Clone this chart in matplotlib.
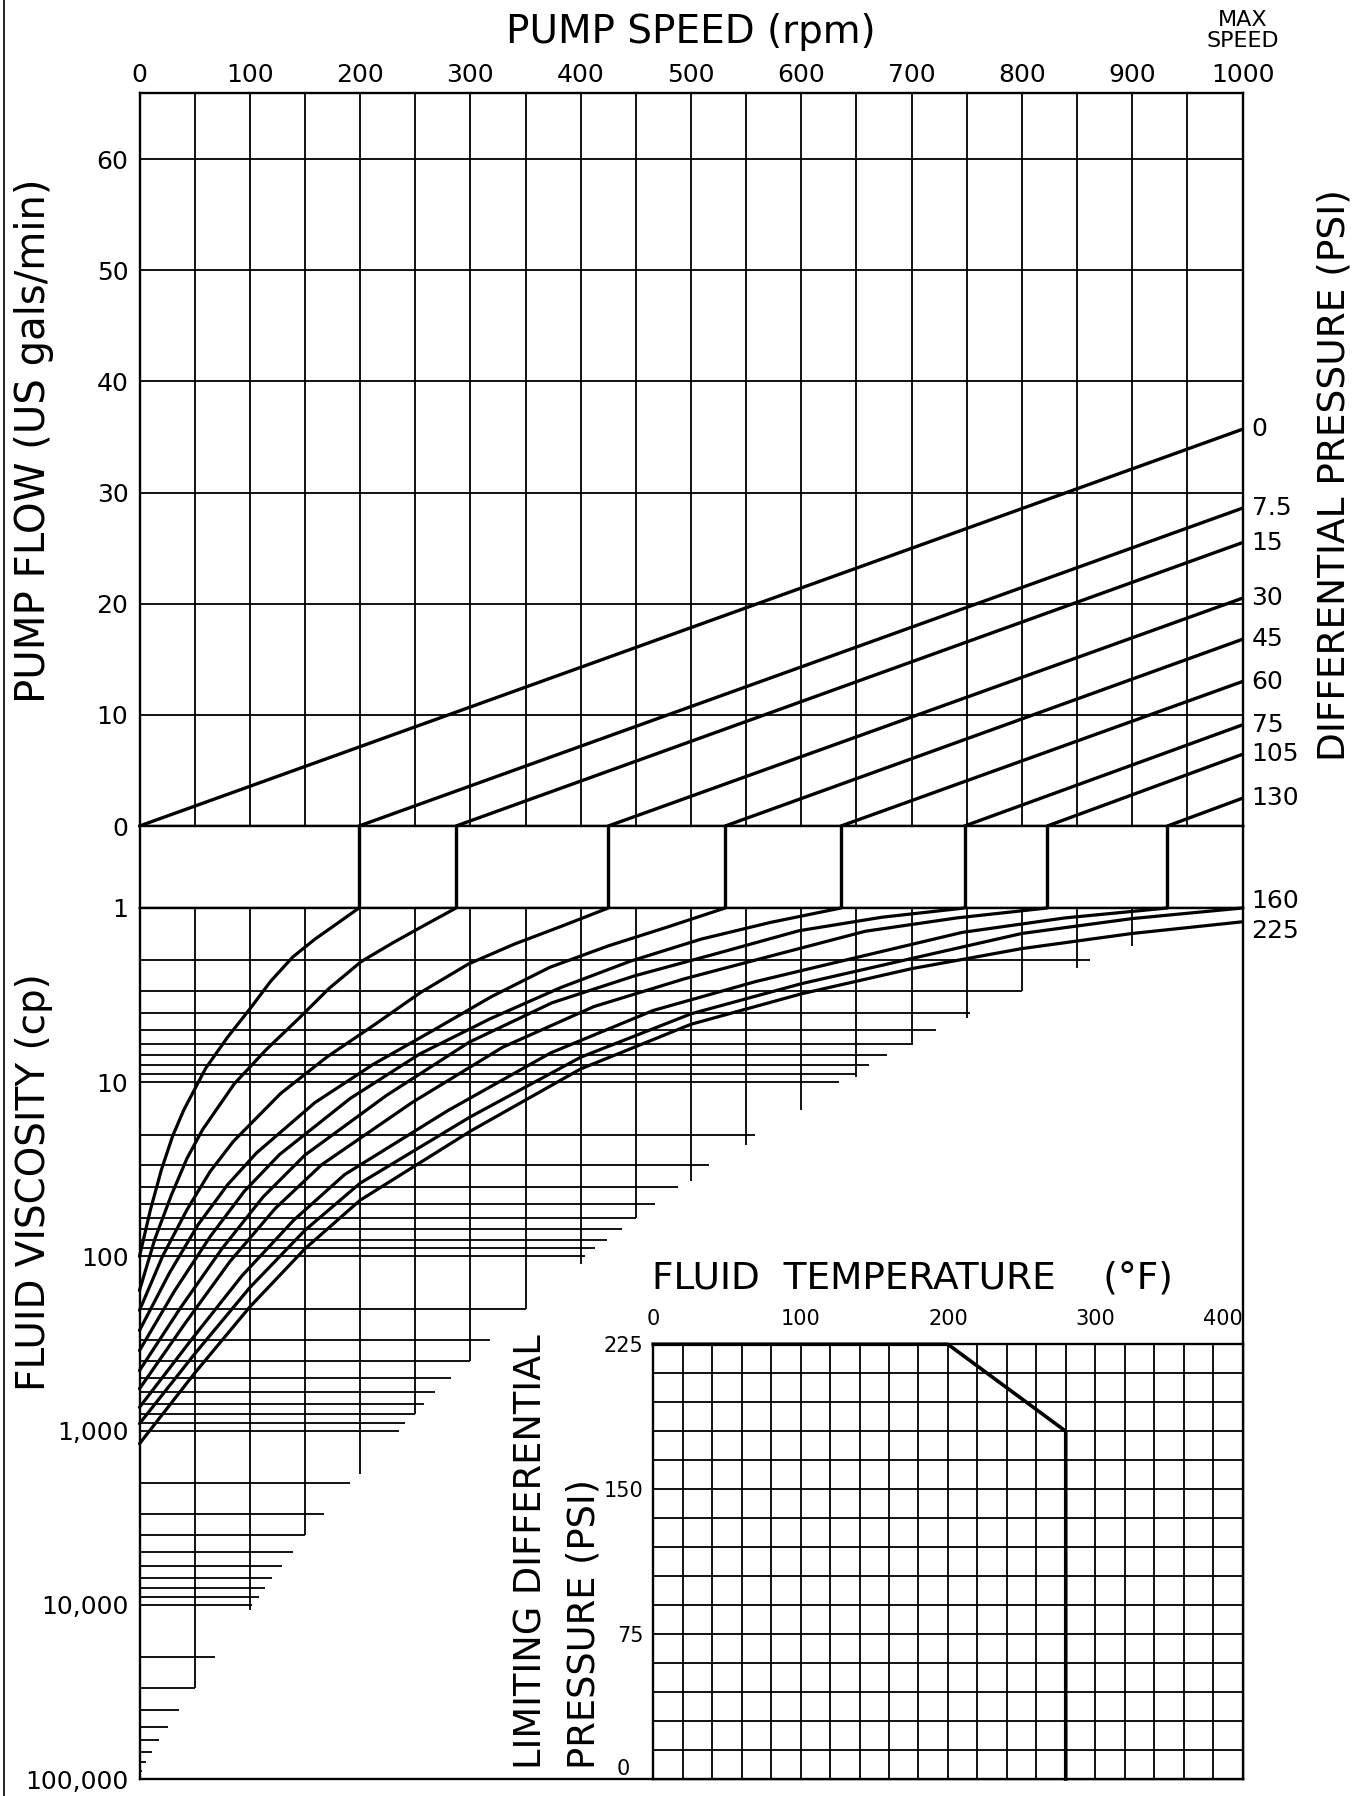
import matplotlib
matplotlib.use("Agg")
import matplotlib.pyplot as plt
from matplotlib.lines import Line2D
from matplotlib.transforms import offset_copy

plt.rcParams['font.family'] = ['DejaVu Sans']

# ---------------- data ----------------
speed_ticks = [0, 100, 200, 300, 400, 500, 600, 700, 800, 900, 1000]
flow_ticks = [0, 10, 20, 30, 40, 50, 60]
flow_max = 66
visc_ticks = [1, 10, 100, 1000, 10000, 100000]
visc_tick_labels = ['1', '10', '100', '1,000', '10,000', '100,000']

# differential pressure lines in the flow section
psi_top_labels = ['0', '7.5', '15', '30', '45', '60', '75', '105', '130']
slip_rpm = [0, 199, 287, 425, 531, 636, 748, 823, 932]
flow_at_max_speed = [35.7, 28.6, 25.5, 20.5, 16.8, 13.0, 9.1, 6.45, 2.5]

# slip vs viscosity curves (rpm, cp)
c7_5_rpm = [199, 179, 159, 139, 119, 100, 80, 60, 40, 30, 20, 10, 0]
c7_5_cp = [1, 1.23, 1.51, 1.91, 2.63, 3.80, 5.50, 8.32, 14.5, 20.4, 31.6, 53.7, 100]
c15_rpm = [287, 258, 230, 201, 172, 144, 115, 86, 57, 43, 29, 14, 0]
c15_cp = [1, 1.26, 1.58, 2.03, 2.89, 4.33, 6.49, 10.2, 18.8, 27.4, 44.3, 79.2, 157]
c30_rpm = [425, 383, 340, 298, 255, 213, 170, 128, 85, 64, 43, 21, 0]
c30_cp = [1, 1.27, 1.61, 2.10, 3.05, 4.68, 7.16, 11.6, 21.9, 32.6, 54.0, 99.5, 204]
c45_rpm = [531, 478, 425, 372, 319, 266, 212, 159, 106, 80, 53, 27, 0]
c45_cp = [1, 1.29, 1.65, 2.19, 3.23, 5.05, 7.89, 13.1, 25.5, 38.7, 65.9, 125, 266]
c60_rpm = [636, 572, 509, 445, 382, 318, 254, 191, 127, 95, 64, 32, 0]
c60_cp = [1, 1.21, 1.51, 2.02, 2.86, 4.32, 6.89, 12.4, 26.0, 42.3, 77.1, 157, 347]
c75_rpm = [748, 673, 598, 524, 449, 374, 299, 224, 150, 112, 75, 37, 0]
c75_cp = [1, 1.13, 1.35, 1.82, 2.45, 3.50, 5.89, 11.9, 26.2, 45.6, 89.9, 198, 452]
c105_rpm = [823, 741, 658, 576, 494, 412, 329, 247, 165, 123, 82, 41, 0]
c105_cp = [1, 1.14, 1.36, 1.86, 2.55, 3.68, 6.31, 13.1, 29.8, 53.1, 107, 244, 575]
c130_rpm = [932, 839, 746, 652, 559, 466, 373, 280, 186, 140, 93, 47, 0]
c130_cp = [1, 1.14, 1.38, 1.91, 2.64, 3.87, 6.78, 14.5, 33.9, 61.8, 129, 301, 735]
c160_rpm = [1000, 900, 800, 700, 600, 500, 400, 300, 200, 150, 100, 50, 0]
c160_cp = [1, 1.15, 1.40, 1.95, 2.72, 4.05, 7.19, 15.8, 38.0, 70.8, 151, 363, 912]
c225_rpm = [1000, 900, 800, 700, 600, 500, 400, 300, 200, 150, 100, 50, 0]
c225_cp = [1.2, 1.40, 1.71, 2.23, 3.11, 4.65, 8.39, 19.1, 47.6, 90.4, 195, 468, 1189]
psi_bottom_labels = ['160', '225']
psi_bottom_start_cp = [1, 1.2]

# staircase grid of the viscosity section
visc_grid_cp = [2, 3, 4, 5, 6, 7, 8, 9, 10,
                20, 30, 40, 50, 60, 70, 80, 90, 100,
                200, 300, 400, 500, 600, 700, 800, 900, 1000,
                2000, 3000, 4000, 5000, 6000, 7000, 8000, 9000, 10000,
                20000, 30000, 40000, 50000, 60000, 70000, 80000, 90000]
visc_grid_end_rpm = [862, 800, 753, 722, 700, 678, 661, 650, 634,
                     558, 516, 488, 467, 450, 437, 424, 413, 404,
                     350, 318, 300, 282, 268, 258, 250, 241, 235,
                     191, 167, 150, 139, 129, 120, 114, 108, 102,
                     68, 50, 36, 26, 17.5, 11, 6, 2]
speed_grid_rpm = [50, 100, 150, 200, 250, 300, 350, 400, 450,
                  500, 550, 600, 650, 700, 750, 800, 850, 900]
speed_grid_end_cp = [30000, 10700, 4000, 1780, 800, 400, 200, 110, 60,
                     37, 22.8, 14.4, 9.3, 6.1, 4.3, 3.0, 2.2, 1.65]

# inset: limiting differential pressure vs fluid temperature
temp_ticks = [0, 100, 200, 300, 400]
limit_psi_ticks = [0, 75, 150, 225]
limit_temp = [0, 200, 280, 280]
limit_psi = [225, 225, 180, 0]

# ---------------- layout ----------------
W, H = 1361, 1796
fig = plt.figure(figsize=(W / 100, H / 100), dpi=100)
fig.patch.set_facecolor('white')


def rect(l, t, r, b):
    return [l / W, 1 - b / H, (r - l) / W, (b - t) / H]


L, R = 139.5, 1242.5
GRID_LW = 1.3
BORDER_LW = 1.7
CURVE_LW = 2.3
TICK_FS = 18

ax_top = fig.add_axes(rect(L, 92.5, R, 826))
ax_strip = fig.add_axes(rect(L, 826, R, 908))
ax_bot = fig.add_axes(rect(L, 908, R, 1779))
ax_in = fig.add_axes(rect(653.3, 1344.3, R, 1779))

for ax in (ax_top, ax_strip, ax_bot, ax_in):
    for s in ax.spines.values():
        s.set_linewidth(BORDER_LW)
        s.set_color('black')
    ax.tick_params(length=0)

# ---- top: pump flow vs speed ----
ax_top.set_xlim(0, 1000)
ax_top.set_ylim(0, flow_max)
ax_top.vlines(range(50, 1000, 50), 0, flow_max, color='black', lw=GRID_LW)
ax_top.hlines(flow_ticks[1:], 0, 1000, color='black', lw=GRID_LW)
for x0, yend in zip(slip_rpm, flow_at_max_speed):
    ax_top.plot([x0, 1000], [0, yend], color='black', lw=2.4,
                solid_capstyle='round', clip_on=False)
ax_top.xaxis.set_ticks_position('top')
ax_top.set_xticks(speed_ticks)
ax_top.set_xticklabels([str(v) for v in speed_ticks], fontsize=TICK_FS)
ax_top.tick_params(axis='x', pad=4)
ax_top.set_yticks(flow_ticks)
ax_top.set_yticklabels([str(v) for v in flow_ticks], fontsize=TICK_FS)
ax_top.tick_params(axis='y', pad=8)
for lab, yend in zip(psi_top_labels, flow_at_max_speed):
    ax_top.text(1000, yend, lab, fontsize=TICK_FS, ha='left', va='center',
                transform=offset_copy(ax_top.transData, fig=fig, x=9, y=0, units='dots'))

# ---- strip ----
ax_strip.set_xlim(0, 1000)
ax_strip.set_ylim(0, 1)
ax_strip.set_xticks([])
ax_strip.set_yticks([])
ax_strip.vlines(slip_rpm[1:], 0, 1, color='black', lw=2.4)

# ---- bottom: viscosity ----
ax_bot.set_xlim(0, 1000)
ax_bot.set_yscale('log')
ax_bot.set_ylim(100000, 1)
ax_bot.set_xticks([])
ax_bot.set_yticks(visc_ticks)
ax_bot.set_yticklabels(visc_tick_labels, fontsize=TICK_FS)
ax_bot.yaxis.set_minor_locator(matplotlib.ticker.NullLocator())
ax_bot.tick_params(axis='y', pad=8)
ax_bot.hlines(visc_grid_cp, 0, visc_grid_end_rpm, color='black', lw=GRID_LW)
ax_bot.vlines(speed_grid_rpm, 1, speed_grid_end_cp, color='black', lw=GRID_LW)
curves = [(c7_5_rpm, c7_5_cp), (c15_rpm, c15_cp), (c30_rpm, c30_cp),
          (c45_rpm, c45_cp), (c60_rpm, c60_cp), (c75_rpm, c75_cp),
          (c105_rpm, c105_cp), (c130_rpm, c130_cp), (c160_rpm, c160_cp),
          (c225_rpm, c225_cp)]
for xs, ys in curves:
    ax_bot.plot(xs, ys, color='black', lw=CURVE_LW, solid_joinstyle='round',
                solid_capstyle='round', clip_on=False)
for lab, cp, dy in zip(psi_bottom_labels, psi_bottom_start_cp, [7, -9]):
    ax_bot.text(1000, cp, lab, fontsize=TICK_FS, ha='left', va='center',
                transform=offset_copy(ax_bot.transData, fig=fig, x=9, y=dy, units='dots'))

# ---- inset ----
ax_in.set_zorder(5)
ax_in.set_facecolor('white')
ax_in.set_xlim(0, 400)
ax_in.set_ylim(0, 225)
ax_in.vlines(range(20, 400, 20), 0, 225, color='black', lw=GRID_LW)
ax_in.hlines(range(15, 225, 15), 0, 400, color='black', lw=GRID_LW)
ax_in.plot(limit_temp, limit_psi, color='black', lw=2.6, clip_on=False)
ax_in.xaxis.set_ticks_position('top')
ax_in.set_xticks(temp_ticks)
ax_in.set_xticklabels([str(v) for v in temp_ticks], fontsize=15)
ax_in.tick_params(axis='x', pad=11)
xl = ax_in.get_xticklabels()
xl[-1].set_horizontalalignment('right')
ax_in.set_yticks(limit_psi_ticks)
ax_in.set_yticklabels([str(v) for v in limit_psi_ticks], fontsize=15)
ax_in.tick_params(axis='y', pad=7)
yl = ax_in.get_yticklabels()
yl[0].set_transform(offset_copy(yl[0].get_transform(), fig=fig, x=-14, y=12, units='dots'))

# ---- titles / axis labels ----
fig.text(691 / W, 1 - 32 / H, 'PUMP SPEED (rpm)', fontsize=28, ha='center', va='center')
fig.text(1243 / W, 1 - 20 / H, 'MAX', fontsize=16, ha='center', va='center')
fig.text(1243 / W, 1 - 41 / H, 'SPEED', fontsize=16, ha='center', va='center')
fig.text(34 / W, 1 - 441 / H, 'PUMP FLOW (US gals/min)', fontsize=29,
         rotation=90, ha='center', va='center')
fig.text(34 / W, 1 - 1182 / H, 'FLUID VISCOSITY (cp)', fontsize=28,
         rotation=90, ha='center', va='center')
fig.text(1335 / W, 1 - 475 / H, 'DIFFERENTIAL PRESSURE (PSI)', fontsize=27,
         rotation=90, ha='center', va='center')
fig.text(652 / W, 1 - 1278 / H, 'FLUID  TEMPERATURE    (°F)', fontsize=27,
         ha='left', va='center')
fig.text(531 / W, 1 - 1769 / H, 'LIMITING DIFFERENTIAL', fontsize=26.5,
         rotation=90, ha='center', va='bottom')
fig.text(584 / W, 1 - 1769 / H, 'PRESSURE (PSI)', fontsize=26.5,
         rotation=90, ha='center', va='bottom')

# page edge line
fig.add_artist(Line2D([4 / W, 4 / W], [0, 1], transform=fig.transFigure,
                      color='black', lw=1.2))

fig.savefig('out.png', dpi=100, facecolor='white')
